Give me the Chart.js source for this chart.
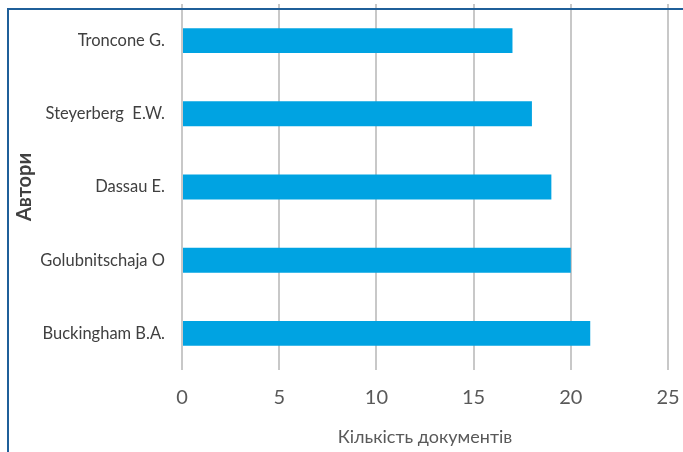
<!DOCTYPE html>
<html>
<head>
<meta charset="utf-8">
<script src="https://cdn.jsdelivr.net/npm/chart.js@4"></script>
<style>
  html, body { margin: 0; padding: 0; background: #fff; }
  #wrap { position: relative; width: 683px; height: 452px; }
  #frame {
    position: absolute; left: 7px; top: 8px; right: -2px; bottom: -2px;
    border-left: 2px solid #1f5f99; border-top: 2px solid #1f5f99;
    pointer-events: none;
  }
</style>
</head>
<body>
<div id="wrap">
  <canvas id="bar-chartcanvas" width="683" height="452"></canvas>
  <div id="frame"></div>
</div>
<script>
// Authors and their document counts
var authors = ["Troncone G.", "Steyerberg  E.W.", "Dassau E.", "Golubnitschaja O", "Buckingham B.A."];
var docCounts = [17, 18, 19, 20, 21];
var xTicks = [0, 5, 10, 15, 20, 25];

var labelFont = "Lato, sans-serif";

var ctx = document.getElementById("bar-chartcanvas");

var data = {
    labels: authors,
    datasets: [
        {
            label: "Кількість документів",
            data: docCounts,
            backgroundColor: "#00a3e2",
            borderWidth: 0,
            barPercentage: 0.68,
            categoryPercentage: 0.5
        }
    ]
};

var options = {
    indexAxis: "y",
    responsive: false,
    animation: false,
    layout: {
        padding: { top: 4, right: 15, bottom: 4, left: 7 }
    },
    plugins: {
        legend: { display: false },
        tooltip: { enabled: false }
    },
    scales: {
        x: {
            min: 0,
            max: 25,
            afterBuildTicks: function (axis) {
                axis.ticks = xTicks.map(function (v) { return { value: v }; });
            },
            // fixed axis box so the plot area spans 182..668 x 4..370
            afterFit: function (axis) {
                axis.height = 78;
                axis.paddingLeft = 0;
                axis.paddingRight = 0;
            },
            grid: {
                color: "#c8c8c8",
                lineWidth: 2,
                drawTicks: false
            },
            border: { display: false },
            ticks: {
                color: "#595959",
                padding: 16,
                font: { family: labelFont, size: 20 }
            },
            title: {
                display: true,
                text: "Кількість документів",
                color: "#595959",
                padding: { top: 4, bottom: 0 },
                font: { family: labelFont, size: 18 }
            }
        },
        y: {
            afterFit: function (axis) {
                axis.width = 175;
                axis.paddingTop = 0;
                axis.paddingBottom = 0;
            },
            grid: { display: false },
            border: { display: false },
            ticks: {
                color: "#404040",
                padding: 9,
                font: { family: labelFont, size: 16.5 }
            },
            title: {
                display: true,
                text: "Автори",
                color: "#404040",
                padding: { top: 6, bottom: 0 },
                font: { family: labelFont, size: 20, weight: "bold" }
            }
        }
    }
};

var chart = new Chart(ctx, {
    type: "bar",
    data: data,
    options: options
});
</script>
</body>
</html>
